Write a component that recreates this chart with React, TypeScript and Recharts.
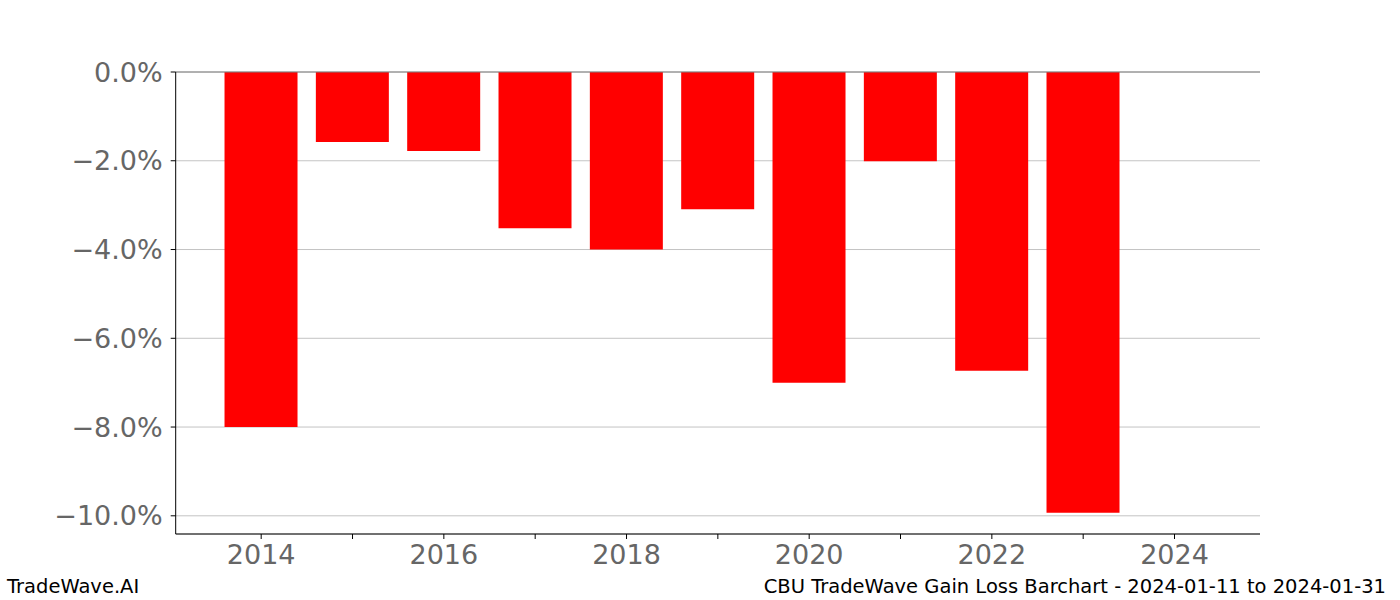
import React from 'react';
import { BarChart, Bar, XAxis, YAxis, CartesianGrid, ReferenceLine } from 'recharts';

const years = [2014, 2015, 2016, 2017, 2018, 2019, 2020, 2021, 2022, 2023];
const gains = [-8.0, -1.58, -1.78, -3.52, -4.0, -3.09, -7.0, -2.01, -6.73, -9.93];
const xTicks = [2014, 2015, 2016, 2017, 2018, 2019, 2020, 2021, 2022, 2023, 2024];
const yTicks = [0, -2, -4, -6, -8, -10];
const footerLeft = 'TradeWave.AI';
const footerRight = 'CBU TradeWave Gain Loss Barchart - 2024-01-11 to 2024-01-31';

const data = years.map((y, i) => ({ year: y, value: gains[i] }));

const font = '"DejaVu Sans", sans-serif';

const fmtY = (v: number) => (v < 0 ? '\u2212' : '') + Math.abs(v).toFixed(1) + '%';
const fmtX = (v: number) => (v % 2 === 0 ? String(v) : '');

export default function App() {
  return (
    <div style={{ position: 'absolute', left: 0, top: 0, width: 1400, height: 600, background: '#fff', fontFamily: font }}>
      <BarChart
        width={1400}
        height={600}
        data={data}
        margin={{ top: 72, right: 140, bottom: 0, left: 0 }}
      >
        <CartesianGrid horizontal vertical={false} stroke="#c4c4c4" strokeWidth={1} />
        <XAxis
          dataKey="year"
          type="number"
          domain={[2013.064, 2024.936]}
          allowDataOverflow
          ticks={xTicks}
          tickFormatter={fmtX}
          interval={0}
          height={66}
          stroke="#000"
          tickSize={5}
          tickMargin={6}
          tick={{ fill: '#666', fontSize: 27, fontFamily: font }}
        />
        <YAxis
          type="number"
          domain={[-10.41, 0]}
          allowDataOverflow
          ticks={yTicks}
          tickFormatter={fmtY}
          interval={0}
          width={175.7}
          stroke="#000"
          tickSize={5}
          tickMargin={8}
          tick={{ fill: '#666', fontSize: 27, fontFamily: font }}
        />
        <ReferenceLine y={0} stroke="#808080" strokeWidth={1} />
        <Bar dataKey="value" fill="#ff0000" barSize={73} isAnimationActive={false} />
      </BarChart>
      <div style={{ position: 'absolute', left: 7, top: 575, fontSize: 19.5, fontFamily: font, color: '#000', whiteSpace: 'nowrap' }}>
        {footerLeft}
      </div>
      <div style={{ position: 'absolute', right: 14, top: 575, fontSize: 19.5, fontFamily: font, color: '#000', whiteSpace: 'nowrap' }}>
        {footerRight}
      </div>
    </div>
  );
}
